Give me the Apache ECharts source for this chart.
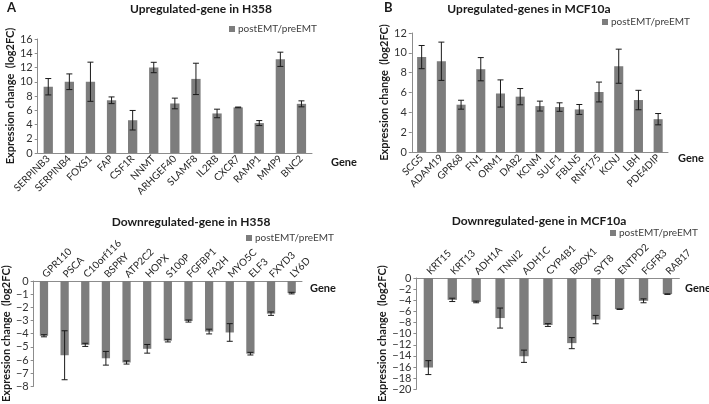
<!DOCTYPE html>
<html>
<head>
<meta charset="utf-8">
<script src="https://cdn.jsdelivr.net/npm/echarts@6/dist/echarts.min.js"></script>
<style>html,body{margin:0;padding:0;background:#fff;}#c{width:709px;height:404px;}</style>
</head>
<body>
<div id="c"></div>
<script>
// Panel A (top): Upregulated genes in H358
const upH358Genes = ['SERPINB3','SERPINB4','FOXS1','FAP','CSF1R','NNMT','ARHGEF40','SLAMF8','IL2RB','CXCR7','RAMP1','MMP9','BNC2'];
const upH358Values = [9.3, 10.0, 10.0, 7.4, 4.6, 12.0, 6.95, 10.4, 5.55, 6.4, 4.2, 13.15, 6.9];
const upH358Errors = [1.15, 1.1, 2.75, 0.47, 1.37, 0.73, 0.75, 2.2, 0.6, 0.05, 0.35, 1.0, 0.42];

// Panel B (top): Upregulated genes in MCF10a
const upMCFGenes = ['SCG5','ADAM19','GPR68','FN1','ORM1','DAB2','KCNM','SULF1','FBLN5','RNF175','KCNJ','LBH','PDE4DIP'];
const upMCFValues = [9.57, 9.15, 4.77, 8.35, 5.9, 5.58, 4.63, 4.53, 4.29, 6.05, 8.65, 5.24, 3.31];
const upMCFErrors = [1.17, 1.93, 0.45, 1.17, 1.37, 0.82, 0.5, 0.43, 0.5, 1.0, 1.72, 0.98, 0.57];

// Panel A (bottom): Downregulated genes in H358
const downH358Genes = ['GPR110','PSCA','C10orf116','BSPRY','ATP2C2','HOPX','S100P','FGFBP1','FA2H','MYO5C','ELF3','FXYD3','LY6D'];
const downH358Values = [-4.16, -5.64, -4.85, -5.87, -6.19, -5.15, -4.53, -3.04, -3.84, -3.91, -5.52, -2.48, -0.92];
const downH358Errors = [0.08, 1.86, 0.12, 0.52, 0.12, 0.33, 0.1, 0.08, 0.18, 0.67, 0.1, 0.13, 0.06];

// Panel B (bottom): Downregulated genes in MCF10a
const downMCFGenes = ['KRT15','KRT13','ADH1A','TNNI2','ADH1C','CYP4B1','BBOX1','SYT8','ENTPD2','FGFR3','RAB17'];
const downMCFValues = [-16.1, -3.93, -4.3, -7.2, -14.06, -8.45, -11.7, -7.47, -5.6, -4.1, -2.9];
const downMCFErrors = [1.25, 0.3, 0.15, 1.8, 1.1, 0.25, 1.0, 0.75, 0.05, 0.35, 0.05];

const seriesName = 'postEMT/preEMT';

const FONT = 'Lato';
const BAR = '#7d7d7d';
const AXIS = '#8c8c8c';

function errData(vals, errs) {
  return vals.map((v, i) => [i, v - errs[i], v + errs[i]]);
}
function errorRender(params, api) {
  const x = api.value(0), lo = api.value(1), hi = api.value(2);
  const a = api.coord([x, hi]);
  const b = api.coord([x, lo]);
  const hw = 3;
  const st = {stroke: '#1a1a1a', lineWidth: 1};
  return {type: 'group', children: [
    {type: 'line', shape: {x1: a[0], y1: a[1], x2: b[0], y2: b[1]}, style: st},
    {type: 'line', shape: {x1: a[0]-hw, y1: a[1], x2: a[0]+hw, y2: a[1]}, style: st},
    {type: 'line', shape: {x1: b[0]-hw, y1: b[1], x2: b[0]+hw, y2: b[1]}, style: st}
  ]};
}
const minusFmt = v => String(v).replace('-', '\u2212');

function xAx(idx, data, top) {
  const lab = {rotate: 45, interval: 0, fontFamily: FONT, fontSize: 10, color: '#262626', margin: 4};
  if (top) { lab.rotate = -45; lab.align = 'left'; lab.verticalAlign = 'middle'; lab.margin = 5; }
  return {
    type: 'category', gridIndex: idx, data: data,
    position: top ? 'top' : 'bottom',
    axisLine: {onZero: false, lineStyle: {color: AXIS, width: 1}},
    axisTick: {show: false},
    axisLabel: lab
  };
}
function yAx(idx, min, max, interval, gap) {
  return {
    type: 'value', gridIndex: idx, min: min, max: max, interval: interval,
    name: 'Expression change  (log2FC)', nameLocation: 'middle', nameGap: gap, nameRotate: 90,
    nameTextStyle: {fontFamily: FONT, fontSize: 11, fontWeight: 'bold', color: '#1a1a1a'},
    axisLine: {show: true, lineStyle: {color: AXIS}},
    axisTick: {show: true, length: 3, lineStyle: {color: AXIS}},
    splitLine: {show: false},
    axisLabel: {fontFamily: FONT, fontSize: 11, color: '#333', margin: 5, formatter: minusFmt}
  };
}
function legend(left, top) {
  return {left: left, top: top, data: [seriesName], icon: 'rect', itemWidth: 6, itemHeight: 6, itemGap: 4,
    textStyle: {fontFamily: FONT, fontSize: 10, color: '#404040', padding: [0,0,0,-2]}, selectedMode: false};
}
function title(text, cx, top) {
  return {text: text, left: cx, top: top, textAlign: 'center',
    textStyle: {fontFamily: FONT, fontSize: 12, fontWeight: 'bold', color: '#1a1a1a'}};
}

const option = {
  animation: false,
  backgroundColor: '#fff',
  title: [
    title('Upregulated-gene in H358', 196, -2),
    title('Upregulated-genes in MCF10a', 524, -2),
    title('Downregulated-gene in H358', 186, 211),
    title('Downregulated-gene in MCF10a', 534, 210),
    {text: 'A', left: 2, top: -4, textStyle: {fontFamily: FONT, fontSize: 13, fontWeight: 'bold', color: '#1a1a1a'}},
    {text: 'B', left: 379, top: -4, textStyle: {fontFamily: FONT, fontSize: 13, fontWeight: 'bold', color: '#1a1a1a'}}
  ],
  legend: [legend(224, 19), legend(597, 12), legend(241, 228), legend(605, 223)],
  grid: [
    {left: 37.7, top: 39, width: 274.3, height: 114},
    {left: 411.8, top: 33, width: 256.2, height: 119},
    {left: 30, top: 281, width: 272, height: 107.3},
    {left: 416.4, top: 278, width: 263, height: 123}
  ],
  xAxis: [xAx(0, upH358Genes, false), xAx(1, upMCFGenes, false), xAx(2, downH358Genes, true), xAx(3, downMCFGenes, true)],
  yAxis: [yAx(0, 0, 16, 2, 22), yAx(1, 0, 12, 2, 22), yAx(2, -8, 0, 1, 21), yAx(3, -20, 0, 2, 28)],
  graphic: [
    {type: 'text', x: 331, y: 157, style: {text: 'Gene', font: 'bold 11px Lato', fill: '#1a1a1a'}},
    {type: 'text', x: 678, y: 153, style: {text: 'Gene', font: 'bold 11px Lato', fill: '#1a1a1a'}},
    {type: 'text', x: 310, y: 283, style: {text: 'Gene', font: 'bold 11px Lato', fill: '#1a1a1a'}},
    {type: 'text', x: 685, y: 283, style: {text: 'Gene', font: 'bold 11px Lato', fill: '#1a1a1a'}}
  ],
  series: [
    {name: seriesName, type: 'bar', xAxisIndex: 0, yAxisIndex: 0, data: upH358Values, barWidth: '44%', itemStyle: {color: BAR}},
    {name: seriesName, type: 'bar', xAxisIndex: 1, yAxisIndex: 1, data: upMCFValues, barWidth: '46%', itemStyle: {color: BAR}},
    {name: seriesName, type: 'bar', xAxisIndex: 2, yAxisIndex: 2, data: downH358Values, barWidth: '40%', itemStyle: {color: BAR}},
    {name: seriesName, type: 'bar', xAxisIndex: 3, yAxisIndex: 3, data: downMCFValues, barWidth: '39%', itemStyle: {color: BAR}},
    {name: 'err0', type: 'custom', xAxisIndex: 0, yAxisIndex: 0, data: errData(upH358Values, upH358Errors), renderItem: errorRender, z: 5},
    {name: 'err1', type: 'custom', xAxisIndex: 1, yAxisIndex: 1, data: errData(upMCFValues, upMCFErrors), renderItem: errorRender, z: 5},
    {name: 'err2', type: 'custom', xAxisIndex: 2, yAxisIndex: 2, data: errData(downH358Values, downH358Errors), renderItem: errorRender, z: 5},
    {name: 'err3', type: 'custom', xAxisIndex: 3, yAxisIndex: 3, data: errData(downMCFValues, downMCFErrors), renderItem: errorRender, z: 5}
  ]
};
const chart = echarts.init(document.getElementById('c'), null, {renderer: 'canvas'});
chart.setOption(option);
</script>
</body>
</html>
